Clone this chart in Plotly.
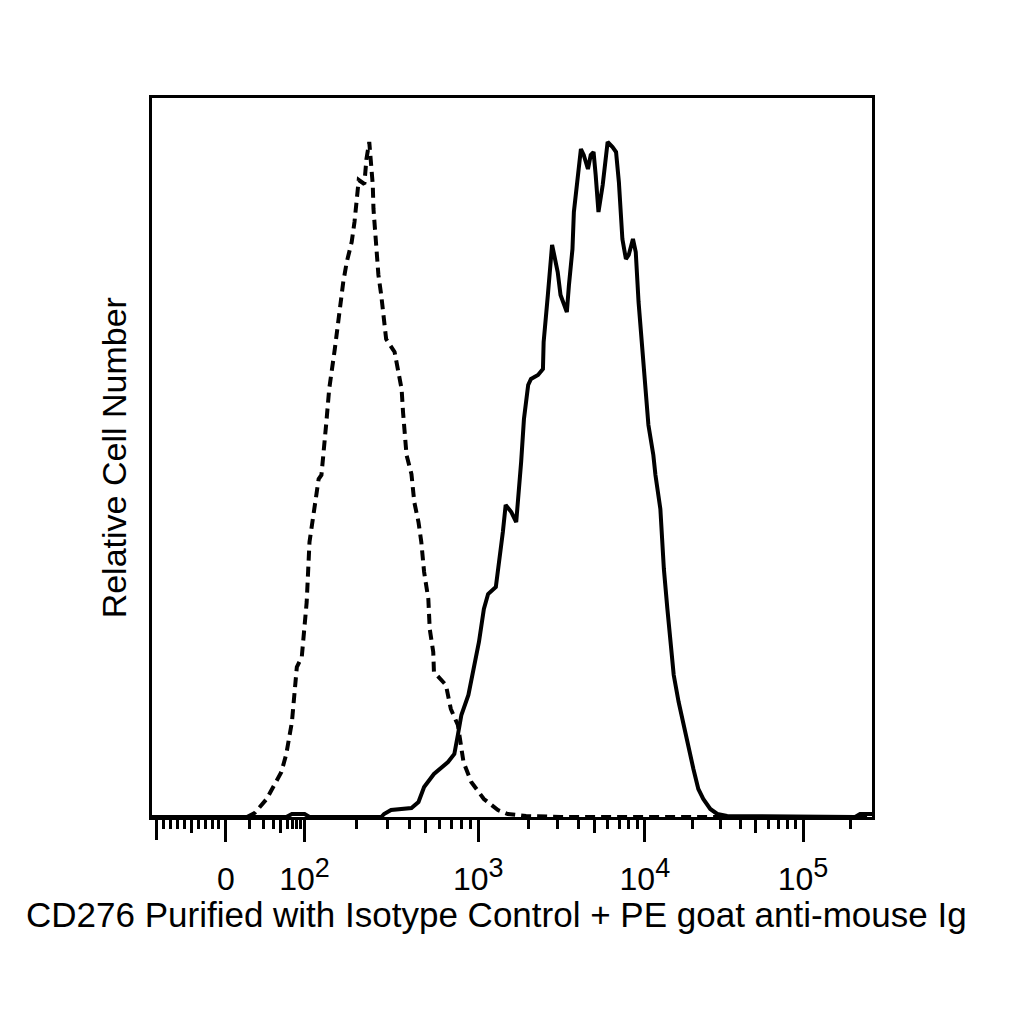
import numpy as np
import plotly.graph_objects as go

# biexponential display axis, expressed in channels (0-1024)
zero_ch = 105            # value 0
neg_ch = 7               # value -10^2
decade_ch = [217, 464, 701, 926]   # 10^2, 10^3, 10^4, 10^5
decade_exp = [2, 3, 4, 5]

# isotype control (dashed): channel, cell count
iso_ch = [135, 146, 163, 184, 191, 199, 206, 213, 220, 224, 237, 241, 248, 252,
          260, 267, 272, 277, 284, 288, 291, 294, 302, 305, 309, 312, 314, 315,
          317, 319, 322, 326, 330, 333, 345, 350, 355, 357, 359, 362, 369, 373,
          379, 383, 387, 393, 395, 400, 401, 418, 425, 435, 443, 454, 472, 492,
          506, 532, 581, 1024]
iso_count = [0, 4, 18, 45, 63, 95, 150, 160, 215, 275, 338, 342, 395, 428,
             468, 508, 535, 555, 575, 595, 622, 637, 633, 658, 675, 652, 632, 608,
             585, 562, 542, 522, 495, 478, 465, 448, 428, 405, 385, 362, 343, 315,
             295, 275, 245, 218, 188, 165, 145, 132, 108, 92, 55, 35, 18, 7,
             3, 1, 0, 0]

# CD276 stained (solid): channel, cell count
cd_ch = [0, 191, 199, 217, 224, 326, 330, 340, 369, 379, 387, 401, 421, 430,
         435, 440, 450, 458, 465, 472, 478, 489, 494, 499, 503, 511, 518, 522,
         525, 529, 535, 539, 549, 556, 557, 563, 567, 569, 572, 577, 581, 586,
         590, 593, 598, 600, 606, 610, 614, 620, 624, 628, 631, 634, 635, 641,
         645, 648, 655, 660, 664, 667, 669, 674, 678, 684, 688, 692, 698, 702,
         706, 713, 716, 723, 728, 733, 738, 742, 749, 756, 763, 770, 777, 784,
         794, 804, 818, 1000, 1007, 1024]
cd_count = [0, 0, 3, 3, 0, 0, 3, 7, 9, 15, 30, 43, 55, 63,
            82, 102, 122, 148, 175, 208, 223, 230, 255, 285, 312, 305, 295, 325,
            355, 398, 432, 438, 442, 448, 475, 522, 555, 572, 562, 545, 522, 513,
            505, 532, 568, 605, 645, 668, 662, 648, 662, 665, 642, 618, 605, 632,
            662, 675, 670, 665, 635, 608, 578, 558, 562, 578, 565, 515, 465, 422,
            392, 362, 342, 308, 248, 208, 175, 142, 115, 92, 68, 48, 28, 18,
            8, 3, 1, 0, 3, 3]

# ticks
major_vals = [zero_ch] + decade_ch
major_text = ["0"] + ["10<sup><span style='font-size:27px'>%d</span></sup>" % e
                      for e in decade_exp]

ks = [2, 3, 4, 6, 7, 8, 9]
minor_vals = [zero_ch - (zero_ch - neg_ch) * k / 10 for k in range(1, 10) if k != 5]
minor_vals += [zero_ch + np.log10(k) * (decade_ch[0] - zero_ch) for k in ks]
for i in range(3):
    w = decade_ch[i + 1] - decade_ch[i]
    minor_vals += [decade_ch[i] + np.log10(k) * w for k in ks]
last_w = decade_ch[3] - decade_ch[2]
minor_vals.append(decade_ch[3] + np.log10(2) * last_w)

mid_vals = [zero_ch - (zero_ch - neg_ch) * 0.5,
            zero_ch + np.log10(5) * (decade_ch[0] - zero_ch)]
mid_vals += [decade_ch[i] + np.log10(5) * (decade_ch[i + 1] - decade_ch[i]) for i in range(3)]

fig = go.Figure()
fig.add_trace(go.Scatter(x=iso_ch, y=iso_count, mode="lines",
                         line=dict(color="black", width=4, dash="10px,6px")))
fig.add_trace(go.Scatter(x=cd_ch, y=cd_count, mode="lines",
                         line=dict(color="black", width=4)))
# carriers for the extra tick axes (medium ticks and the long -10^2 tick)
for ax in ["x2", "x3"]:
    fig.add_trace(go.Scatter(x=[0], y=[0], xaxis=ax, mode="markers",
                             marker=dict(opacity=0), hoverinfo="skip"))

font = "Liberation Sans, Arial, sans-serif"
fig.update_layout(
    width=1024, height=1024,
    margin=dict(l=144, r=160, t=90, b=215),
    paper_bgcolor="white", plot_bgcolor="white",
    showlegend=False,
    font=dict(family=font, color="black", size=32),
    xaxis=dict(
        range=[0, 1024], showgrid=False, zeroline=False,
        showline=True, mirror=True, linecolor="black", linewidth=3,
        tickmode="array", tickvals=major_vals, ticktext=major_text,
        ticks="outside", ticklen=22, tickwidth=2.5, tickcolor="black",
        ticklabelstandoff=10, tickfont=dict(size=32),
        minor=dict(tickmode="array", tickvals=minor_vals, ticks="outside",
                   ticklen=9, tickwidth=2.5, tickcolor="black", showgrid=False),
    ),
    xaxis2=dict(
        overlaying="x", matches="x", anchor="y", side="bottom",
        showgrid=False, zeroline=False, showline=False, showticklabels=False,
        tickmode="array", tickvals=mid_vals,
        ticks="outside", ticklen=15, tickwidth=2.5, tickcolor="black",
    ),
    xaxis3=dict(
        overlaying="x", matches="x", anchor="y", side="bottom",
        showgrid=False, zeroline=False, showline=False, showticklabels=False,
        tickmode="array", tickvals=[neg_ch],
        ticks="outside", ticklen=22, tickwidth=2.5, tickcolor="black",
    ),
    yaxis=dict(
        range=[0, 719], showgrid=False, zeroline=False,
        showline=True, mirror=True, linecolor="black", linewidth=2.5,
        showticklabels=False, ticks="",
    ),
    annotations=[
        dict(text="CD276 Purified with Isotype Control + PE goat anti-mouse Ig",
             xref="paper", yref="paper", x=0.479, y=-0.1363,
             xanchor="center", yanchor="middle", showarrow=False,
             font=dict(family=font, size=35, color="black")),
        dict(text="Relative Cell Number", textangle=-90,
             xref="paper", yref="paper", x=-0.053, y=0.5,
             xanchor="center", yanchor="middle", showarrow=False,
             font=dict(family=font, size=34, color="black")),
    ],
)

fig.write_html("out.html")
